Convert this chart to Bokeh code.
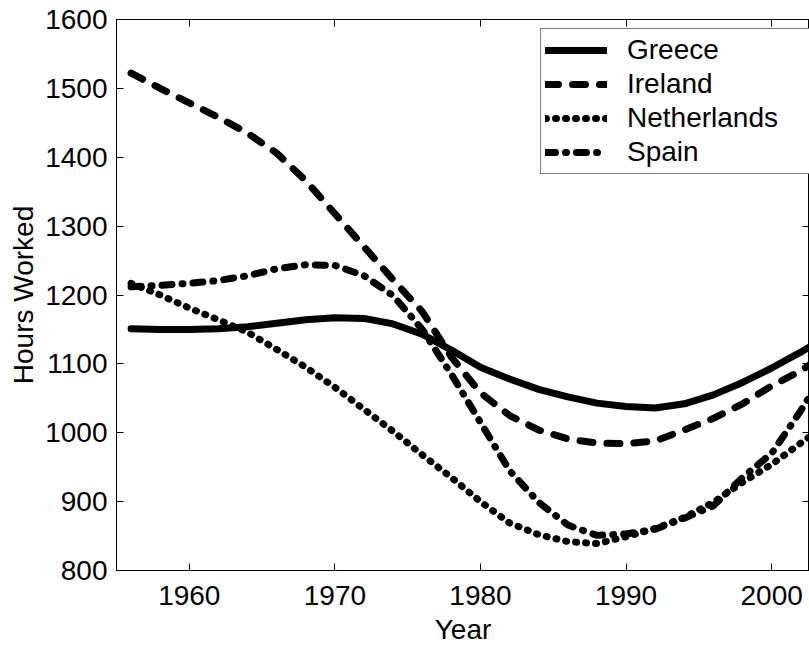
from bokeh.plotting import figure
from bokeh.models import Range1d, FixedTicker, LinearAxis, Legend, LegendItem
from bokeh.embed import file_html
from bokeh.resources import INLINE

years = [1956, 1958, 1960, 1962, 1964, 1966, 1968, 1970, 1972, 1974, 1976, 1978,
         1980, 1982, 1984, 1986, 1988, 1990, 1992, 1994, 1996, 1998, 2000, 2002, 2004]
greece = [1151, 1150, 1150, 1151, 1154, 1159, 1164, 1167, 1166, 1158, 1143, 1120,
          1095, 1078, 1063, 1052, 1043, 1038, 1036, 1042, 1055, 1073, 1094, 1117, 1142]
ireland = [1522, 1500, 1479, 1458, 1435, 1406, 1366, 1318, 1270, 1222, 1176, 1110,
           1058, 1025, 1004, 991, 985, 984, 988, 1004, 1021, 1042, 1068, 1090, 1118]
netherlands = [1217, 1200, 1181, 1164, 1146, 1121, 1095, 1066, 1034, 1002, 968, 935,
               900, 869, 852, 842, 839, 849, 861, 877, 899, 928, 954, 985, 1015]
spain = [1212, 1214, 1217, 1221, 1228, 1238, 1244, 1243, 1228, 1199, 1150, 1085,
         1015, 945, 899, 866, 851, 853, 860, 876, 894, 935, 970, 1032, 1100]

series_names = ["Greece", "Ireland", "Netherlands", "Spain"]
x_ticks = [1960, 1970, 1980, 1990, 2000]
y_ticks = [800, 900, 1000, 1100, 1200, 1300, 1400, 1500, 1600]

FONT = "Liberation Sans"
FS = "28px"

p = figure(width=809, height=647, x_range=Range1d(1955, 2002.6), y_range=Range1d(800, 1600),
           output_backend="svg", toolbar_location=None,
           min_border_left=116, min_border_right=0, min_border_top=19, min_border_bottom=77)
p.background_fill_color = "white"
p.border_fill_color = "white"
p.outline_line_color = "black"
p.outline_line_width = 1
p.grid.visible = False

for ax in (p.xaxis[0], p.yaxis[0]):
    ax.major_label_text_font = FONT
    ax.major_label_text_font_size = FS
    ax.major_label_text_color = "black"
    ax.axis_label_text_font = FONT
    ax.axis_label_text_font_size = FS
    ax.axis_label_text_font_style = "normal"
    ax.axis_label_text_color = "black"
    ax.major_tick_in = 7
    ax.major_tick_out = 0
    ax.minor_tick_line_color = None
    ax.axis_line_color = "black"
    ax.major_tick_line_color = "black"

p.xaxis[0].ticker = FixedTicker(ticks=x_ticks)
p.yaxis[0].ticker = FixedTicker(ticks=y_ticks)
p.xaxis[0].axis_label = "Year"
p.yaxis[0].axis_label = "Hours Worked"
p.xaxis[0].major_label_standoff = 15
p.xaxis[0].axis_label_standoff = 6
p.yaxis[0].major_label_standoff = 9
p.yaxis[0].axis_label_standoff = 3

top = LinearAxis(ticker=FixedTicker(ticks=x_ticks), major_label_text_font_size="0px",
                 major_tick_in=7, major_tick_out=0, minor_tick_line_color=None,
                 major_label_standoff=0)
p.add_layout(top, "above")
right = LinearAxis(ticker=FixedTicker(ticks=y_ticks), major_label_text_font_size="0px",
                   major_tick_in=7, major_tick_out=0, minor_tick_line_color=None,
                   major_label_standoff=0)
p.add_layout(right, "right")

LW = 7
r_g = p.line(years, greece, line_width=LW, line_color="black", line_cap="round", line_join="round")
r_i = p.line(years, ireland, line_width=LW, line_color="black", line_cap="round", line_join="round",
             line_dash="13 14")
r_n = p.line(years, netherlands, line_width=LW, line_color="black", line_cap="round", line_join="round",
             line_dash="1 9")
r_s = p.line(years, spain, line_width=LW, line_color="black", line_cap="round", line_join="round",
             line_dash="10 10 1 10")

legend = Legend(items=[LegendItem(label=n, renderers=[r]) for n, r in
                       zip(series_names, [r_g, r_i, r_n, r_s])],
                location=(424, 396))
legend.label_text_font = FONT
legend.label_text_font_size = FS
legend.label_text_color = "black"
legend.border_line_color = "black"
legend.border_line_width = 1
legend.background_fill_alpha = 1
legend.padding = 4
legend.spacing = 0
legend.glyph_width = 62
legend.glyph_height = 34
legend.label_height = 34
legend.label_standoff = 20
legend.label_width = 200
legend.margin = 0
p.add_layout(legend, "center")

open("out.html", "w").write(file_html(p, INLINE))
